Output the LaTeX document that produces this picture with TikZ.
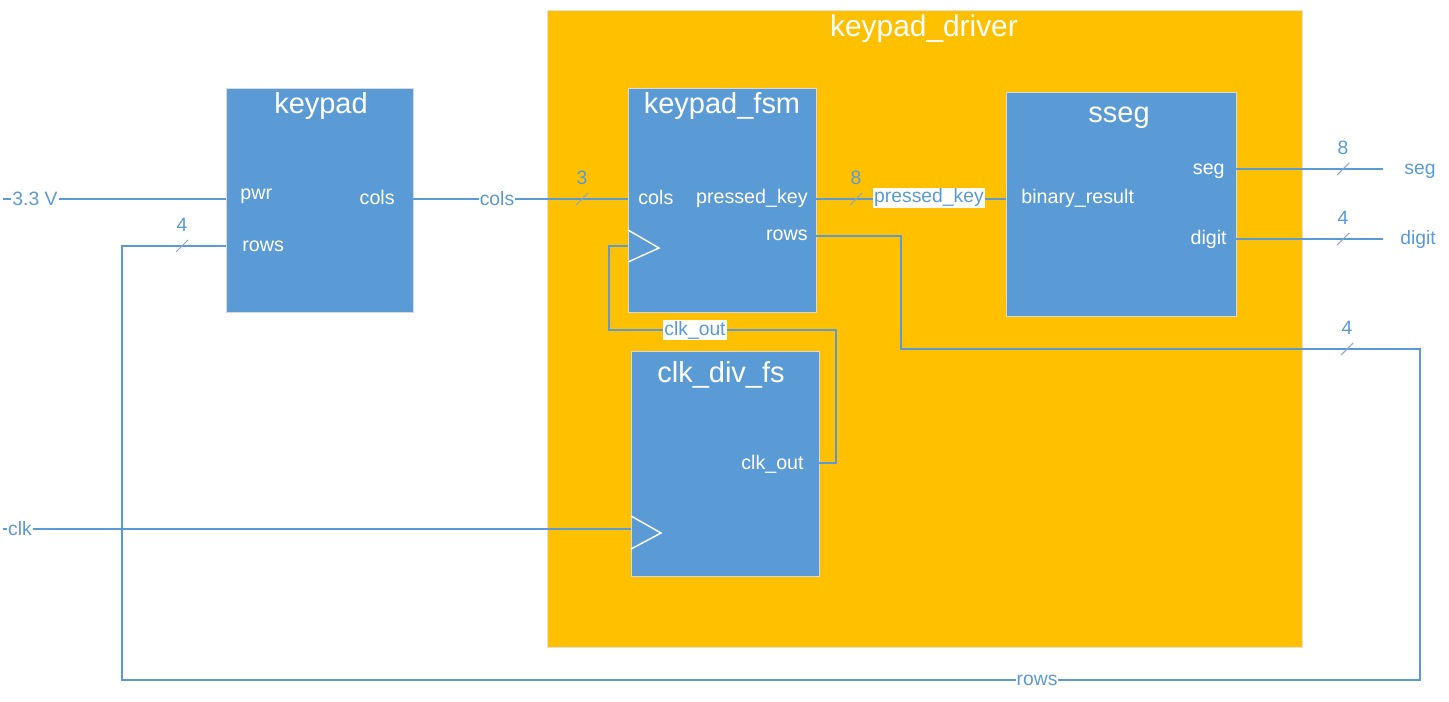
\documentclass[tikz,border=0pt]{standalone}
\usepackage{fontspec}
\setmainfont{Liberation Sans}
\usetikzlibrary{positioning}
\definecolor{colorblock}  {RGB}{91 ,155,213}
\definecolor{colordriver} {RGB}{255,192,0  }
\definecolor{colorwire}   {RGB}{91 ,155,213}
\definecolor{colorbus}    {RGB}{140,165,200}

\begin{document}
\begin{tikzpicture}[
    x=0.02cm, y=-0.02cm,
    block/.style={fill=colorblock,draw=black!15,inner sep=0pt,minimum width=3.76cm,minimum height=4.48cm},
    title/.style={text=white,font={\fontsize{16.5}{19}\selectfont},anchor=base,inner sep=0pt},
    port/.style={text=white,font={\fontsize{11.2}{13}\selectfont},inner sep=0pt},
    txt/.style={text=colorwire,font={\fontsize{11}{13}\selectfont},inner sep=0.6pt},
    wlabel/.style={txt,fill=white},
    wire/.style={draw=colorwire,line width=0.7pt},
    bus/.style={draw=colorbus,line width=0.6pt},
    clock/.style={draw=white,line width=0.8pt},
]
    \useasboundingbox (0,0) rectangle (1449,702);

    % Driver
    \node[fill=colordriver,draw=black!12,inner sep=0pt,minimum width=15.1cm,minimum height=12.74cm] at (924.5,328.5) (driver) {};
    \node[title,font={\fontsize{17}{20}\selectfont}] at (924,37) (drivertitle) {keypad\_driver};

    % Blocks
    \node[block,minimum width=3.74cm] at (319.5,200) (keypad) {};
    \node[block] at (722,200) (fsm) {};
    \node[block,minimum width=4.6cm] at (1121,204) (sseg) {};
    \node[block,minimum height=4.5cm] at (725,463.5) (clkdiv) {};

    \node[title] at (321,114) (keypadtitle) {keypad};
    \node[title] at (722,114) (fsmtitle) {keypad\_fsm};
    \node[title] at (1119,123) (ssegtitle) {sseg};
    \node[title] at (721,382) (clkdivtitle) {clk\_div\_fs};

    % Ports
    \node[port,anchor=base west] at (240,200) (kppwrtxt) {pwr};
    \node[port,anchor=base west] at (242,252) (kprowstxt) {rows};
    \node[port,anchor=base east] at (395,205) (kpcolstxt) {cols};
    \node[port,anchor=base west] at (638,205) (fsmcolstxt) {cols};
    \node[port,anchor=base east] at (808,204) (fsmkeytxt) {pressed\_key};
    \node[port,anchor=base east] at (808,241) (fsmrowstxt) {rows};
    \node[port,anchor=base east] at (804,469) (cdouttxt) {clk\_out};
    \node[port,anchor=base west] at (1021,204) (ssegbintxt) {binary\_result};
    \node[port,anchor=base east] at (1225,175) (ssegsegtxt) {seg};
    \node[port,anchor=base east] at (1227,245) (ssegdigtxt) {digit};

    \coordinate (kp-pwr) at (226,199);
    \coordinate (kp-rows) at (226,246);
    \coordinate (kp-cols) at (413,199);
    \coordinate (fsm-cols) at (628,199);
    \coordinate (fsm-key) at (816,199);
    \coordinate (fsm-rows) at (816,236);
    \coordinate (fsm-clk) at (628,246);
    \coordinate (sseg-bin) at (1006,199);
    \coordinate (sseg-seg) at (1236,169);
    \coordinate (sseg-dig) at (1236,239);
    \coordinate (cd-out) at (819,463);
    \coordinate (cd-clk) at (631,529);
    \coordinate (vin) at (3,199);
    \coordinate (clkin) at (3,529);
    \coordinate (segout) at (1383,169);
    \coordinate (digout) at (1383,239);

    % Clock inputs
    \draw[clock] (628,230) -- (659,248) -- (628,262);
    \draw[clock] (631,516) -- (661,533) -- (631,549);

    % Wires
    \draw[wire] (vin) -- (kp-pwr);
    \draw[wire] (clkin) -- (cd-clk);
    \draw[wire] (kp-cols) -- (fsm-cols);
    \draw[wire] (fsm-key) -- (sseg-bin);
    \draw[wire] (sseg-seg) -- (segout);
    \draw[wire] (sseg-dig) -- (digout);
    \draw[wire] (cd-out) -| (836,330) -| (609,246) -- (fsm-clk);
    \draw[wire] (fsm-rows) -| (901,349) -| (1420,680) -| (122,246) -- (kp-rows);

    % Bus widths
    \foreach \x/\y/\n [count=\i] in {182/246/4, 582/199/3, 856/199/8, 1343/169/8, 1343/239/4, 1347/349/4} {
        \draw[bus] (\x-6,\y+6) -- (\x+6,\y-6);
        \node[txt] at (\x,\y-21) (bw\i) {\n};
    }

    % Labels
    \node[wlabel] at (35,199) (vintxt) {3.3 V};
    \node[wlabel] at (20,529) (clkintxt) {clk};
    \node[wlabel] at (497,199) (colstxt) {cols};
    \node[wlabel] at (929,198) (keytxt) {pressed\_key};
    \node[wlabel] at (695,330) (clkouttxt) {clk\_out};
    \node[wlabel] at (1037,680) (rowstxt) {rows};
    \node[txt,anchor=base] at (1420,175) (segtxt) {seg};
    \node[txt,anchor=base] at (1418,245) (digtxt) {digit};

\end{tikzpicture}
\end{document}
